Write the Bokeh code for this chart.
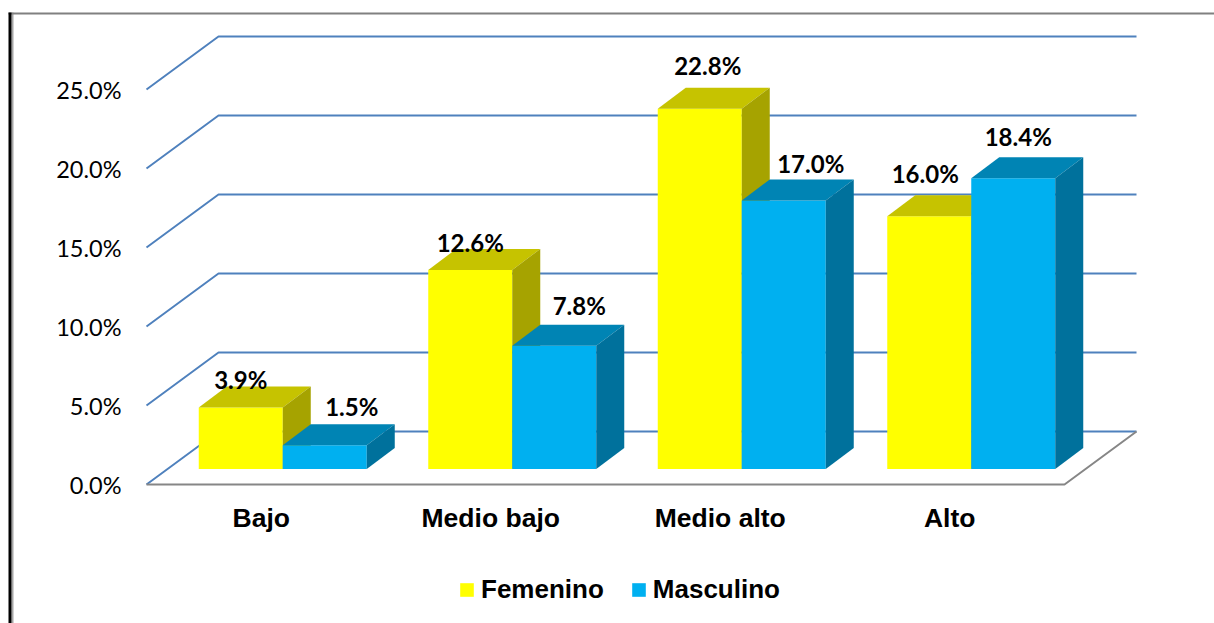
from bokeh.plotting import figure
from bokeh.embed import file_html
from bokeh.resources import INLINE
from bokeh.models import FixedTicker, Legend, LegendItem, BoxAnnotation
from bokeh.core.properties import value

categories = ["Bajo", "Medio bajo", "Medio alto", "Alto"]
femenino = [3.9, 12.6, 22.8, 16.0]
masculino = [1.5, 7.8, 17.0, 18.4]
y_ticks = [0, 5, 10, 15, 20, 25]
y_tick_labels = ["0.0%", "5.0%", "10.0%", "15.0%", "20.0%", "25.0%"]

# hand-placed data label offsets in px (from each bar's front-top centre)
fem_label_dx = [0, 0, 8, -4]
fem_label_dy = [28, 27, 43, 43]
mas_label_dx = [27, 25, 27, 5]
mas_label_dy = [39, 40, 37, 42]

# 3-D projection, in data units
PX_X, PX_Y = 229.5, 15.8
DEPTH_X, DEPTH_Y = 72 / PX_X, 53 / PX_Y
SHIFT_X, SHIFT_Y = 21.5 / PX_X, 15.5 / PX_Y
BAR_DX, BAR_DY = 28 / PX_X, 21 / PX_Y
BAR_W = 84 / PX_X
W, H = 1214, 623
ORIGIN_X, ORIGIN_Y = 146, 484

p = figure(width=W, height=H, output_backend="svg", toolbar_location=None,
           x_range=(-ORIGIN_X / PX_X, (W - ORIGIN_X) / PX_X),
           y_range=(-(H - ORIGIN_Y) / PX_Y, ORIGIN_Y / PX_Y),
           min_border=0, outline_line_color=None,
           background_fill_color="white", border_fill_color="white")
p.grid.visible = False

ya = p.yaxis[0]
ya.fixed_location = 0
ya.ticker = FixedTicker(ticks=y_ticks)
ya.major_label_overrides = dict(zip(y_ticks, y_tick_labels))
ya.axis_line_color = None
ya.major_tick_line_color = None
ya.minor_tick_line_color = None
ya.major_tick_out = 0
ya.major_tick_in = 0
ya.major_label_standoff = 25
ya.major_label_text_font = "Lato"
ya.major_label_text_font_size = "23.5px"
ya.major_label_text_color = "black"

centers = [i + 0.5 for i in range(len(categories))]
xa = p.xaxis[0]
xa.fixed_location = 0
xa.ticker = FixedTicker(ticks=centers)
xa.major_label_overrides = dict(zip(centers, categories))
xa.axis_line_color = None
xa.major_tick_line_color = None
xa.minor_tick_line_color = None
xa.major_tick_out = 0
xa.major_tick_in = 0
xa.major_label_standoff = 18
xa.major_label_text_font = "Liberation Sans"
xa.major_label_text_font_style = "bold"
xa.major_label_text_font_size = "26.5px"
xa.major_label_text_color = "black"

# back grid and floor
n = len(categories)
for v in y_ticks:
    p.line([0, DEPTH_X, n + DEPTH_X], [v, v + DEPTH_Y, v + DEPTH_Y], line_color="#4F81BD", line_width=2)
p.line([0, n, n + DEPTH_X], [0, 0, DEPTH_Y], line_color="#868686", line_width=2)


def bars(vals, x_lefts, front, top, side):
    xl = [x + SHIFT_X for x in x_lefts]
    xr = [x + BAR_W for x in xl]
    b = SHIFT_Y
    tops = [v + b for v in vals]
    r = p.quad(left=xl, right=xr, bottom=b, top=tops, fill_color=front, line_color=None)
    p.patches([[a, a + BAR_DX, c + BAR_DX, c] for a, c in zip(xl, xr)],
              [[t, t + BAR_DY, t + BAR_DY, t] for t in tops], fill_color=top, line_color=None)
    p.patches([[c, c + BAR_DX, c + BAR_DX, c] for c in xr],
              [[b, b + BAR_DY, t + BAR_DY, t] for t in tops], fill_color=side, line_color=None)
    return xl, xr, tops, r


fx = [c - BAR_W for c in centers]
mx = centers
xl1, xr1, t1, r1 = bars(femenino, fx, "#FFFF00", "#C6C300", "#A6A300")
xl2, xr2, t2, r2 = bars(masculino, mx, "#00B0F0", "#0084B4", "#00719C")


def labels(vals, xl, xr, tops, dxs, dys):
    p.text(x=[(a + b) / 2 for a, b in zip(xl, xr)], y=tops, text=[f"{v:.1f}%" for v in vals],
           x_offset=dxs, y_offset=[-d for d in dys],
           text_align="center", text_baseline="middle", text_font=value("Lato"),
           text_font_style="bold", text_font_size="24px", text_color="black")


labels(femenino, xl1, xr1, t1, fem_label_dx, fem_label_dy)
labels(masculino, xl2, xr2, t2, mas_label_dx, mas_label_dy)

legend = Legend(items=[LegendItem(label="Femenino", renderers=[r1]),
                       LegendItem(label="Masculino", renderers=[r2])],
                orientation="horizontal", location=(458, 18),
                glyph_width=17, glyph_height=17, label_standoff=6, spacing=26,
                padding=0, margin=0, border_line_color=None, background_fill_alpha=0,
                label_text_font="Liberation Sans", label_text_font_style="bold",
                label_text_font_size="26px", label_text_color="black")
p.add_layout(legend, "center")


def rect(l, r, t, b, color):
    p.add_layout(BoxAnnotation(left=l, right=r, top=t, bottom=b, left_units="canvas", right_units="canvas",
                               top_units="canvas", bottom_units="canvas",
                               fill_color=color, fill_alpha=1, line_color=None))


# page border
rect(11, 13, 12, H, "#A6A6A6")
rect(8, W, 12, 14, "#808080")
rect(8, 11, 12, H, "black")

open("out.html", "w").write(file_html(p, INLINE))
